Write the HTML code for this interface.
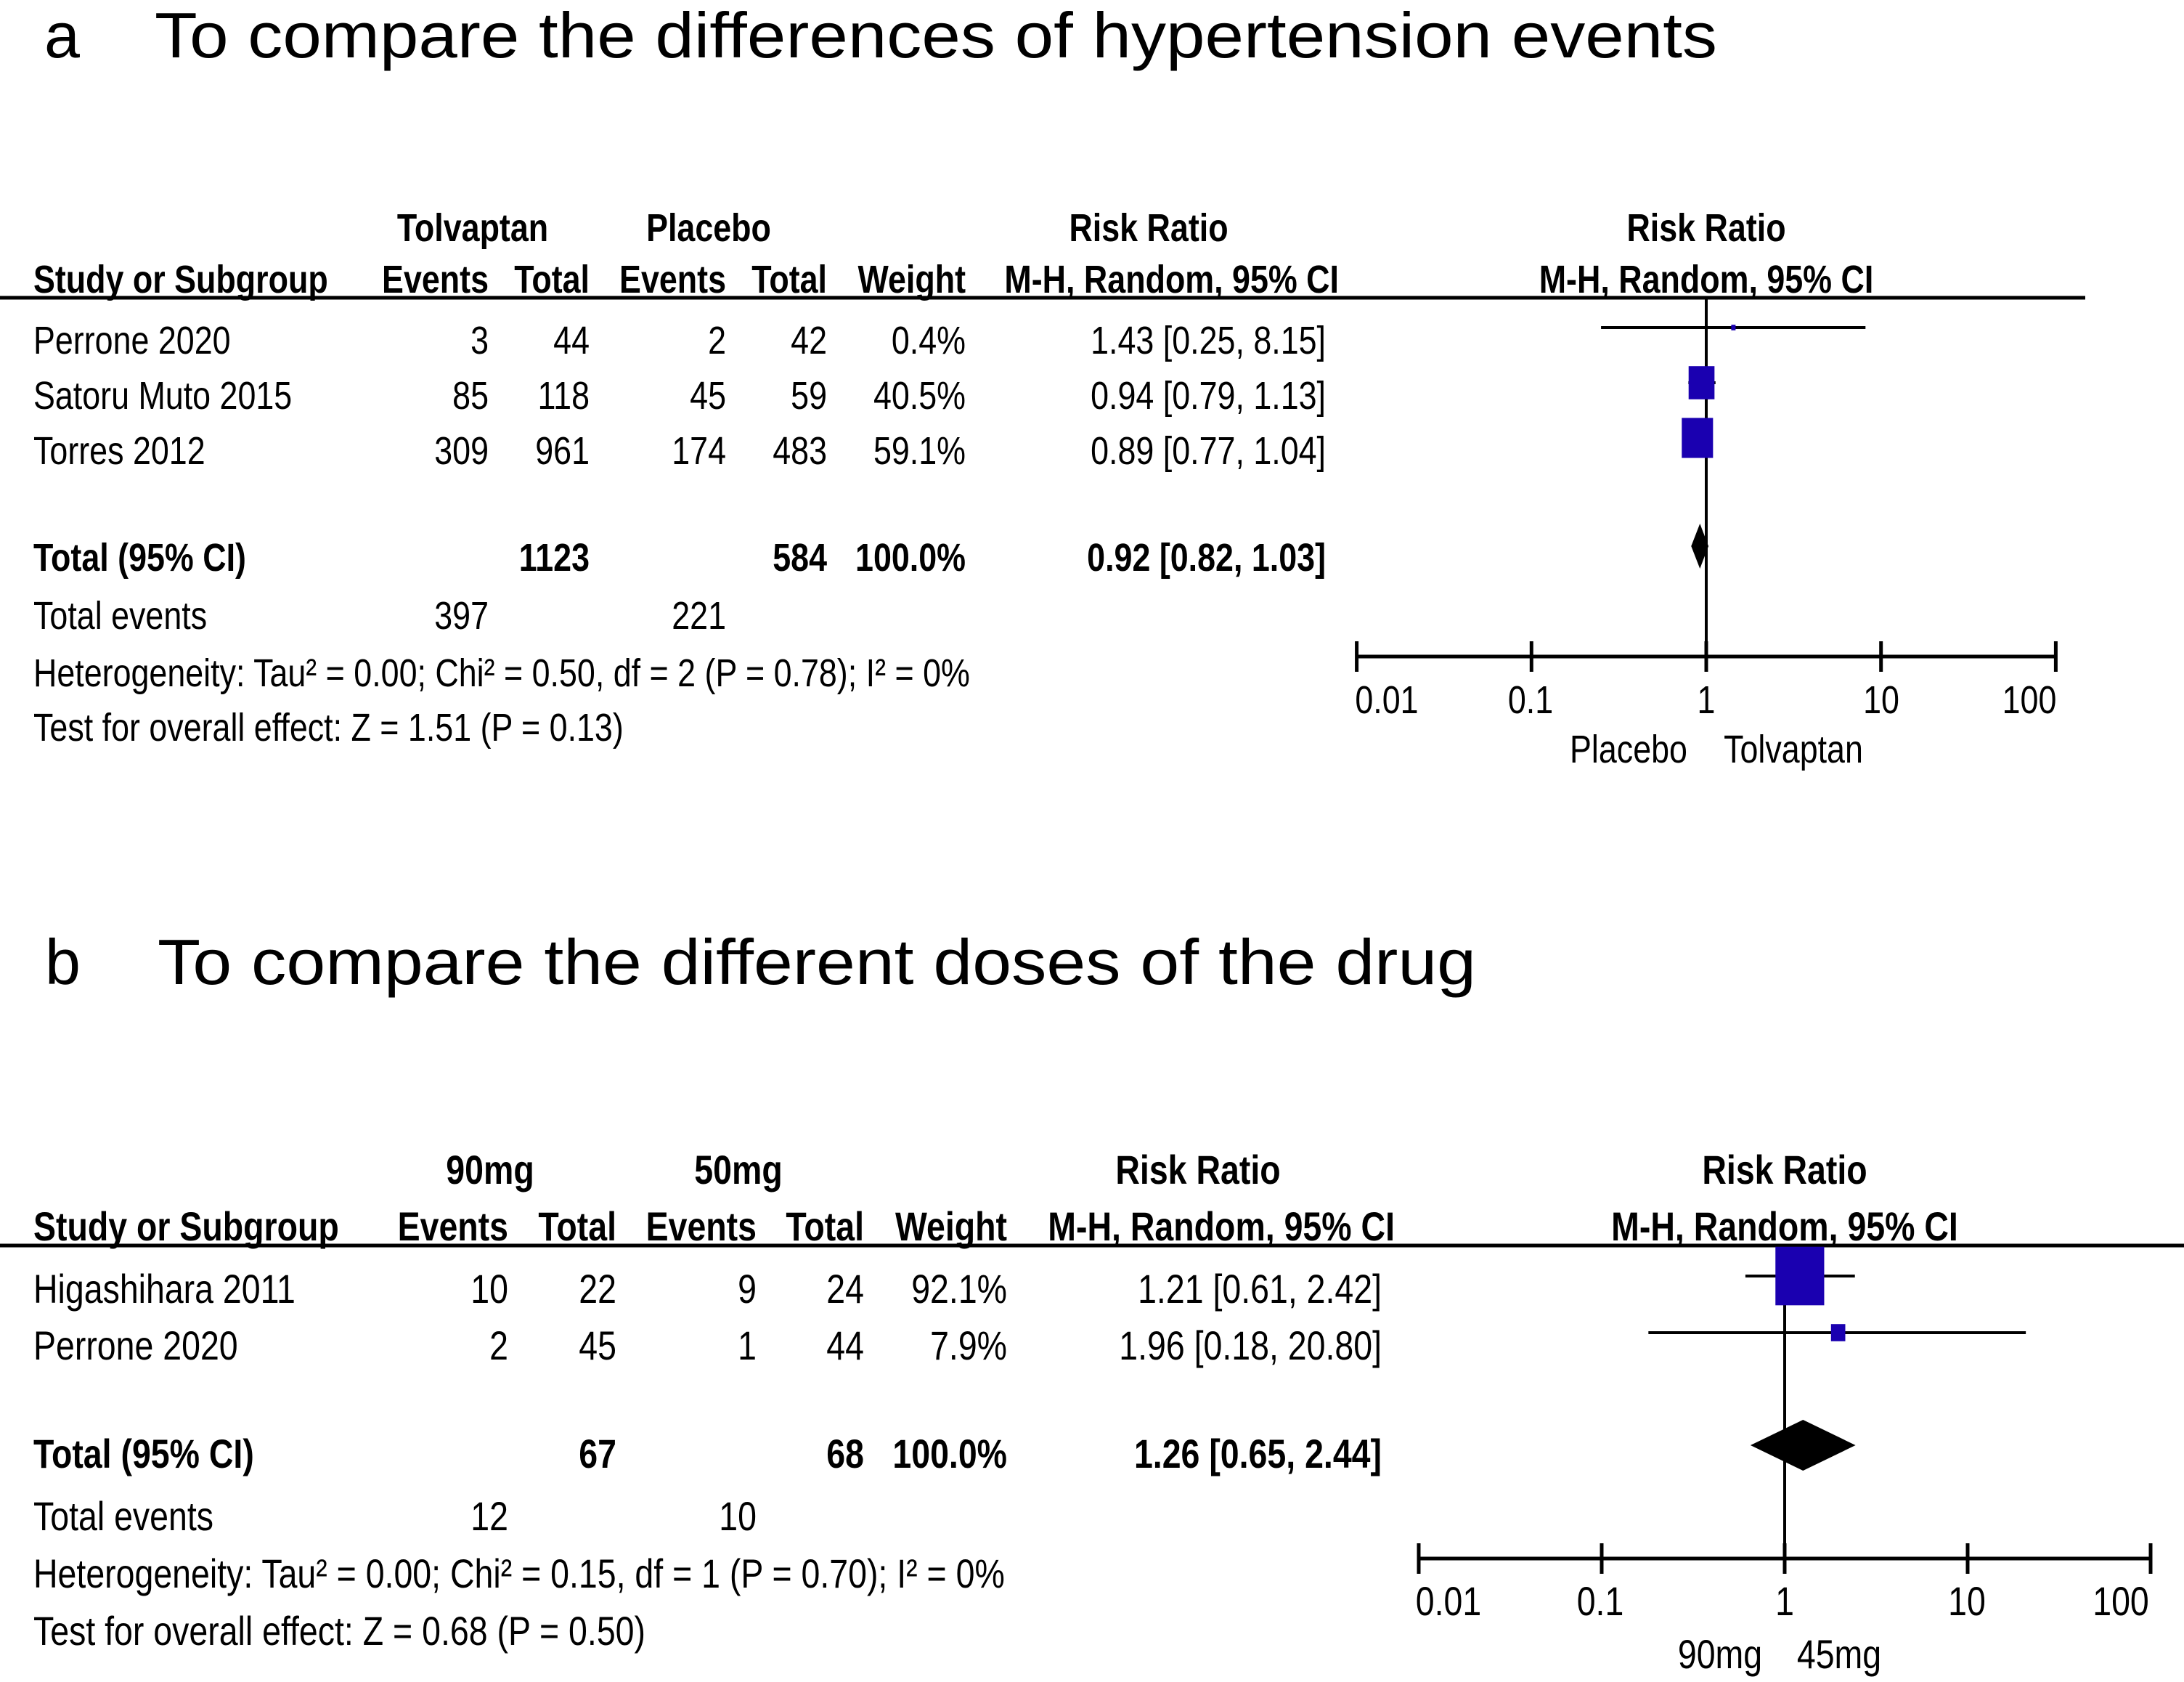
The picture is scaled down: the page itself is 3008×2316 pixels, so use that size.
<!DOCTYPE html>
<html><head><meta charset="utf-8"><style>
html,body{margin:0;padding:0;background:#fff;}
svg{display:block;}
text{font-family:"Liberation Sans",Arial,sans-serif;fill:#000;}
</style></head><body>
<svg id="fig" width="3008" height="2316" viewBox="0 0 3008 2316" xmlns="http://www.w3.org/2000/svg">
<rect width="3008" height="2316" fill="#fff"/>
<text x="61" y="79" font-size="88">a</text>
<text x="213" y="79" font-size="88" textLength="2152" lengthAdjust="spacingAndGlyphs">To compare the differences of hypertension events</text>
<text x="62" y="1355" font-size="88">b</text>
<text x="217" y="1355" font-size="88" textLength="1816" lengthAdjust="spacingAndGlyphs">To compare the different doses of the drug</text>
<g id="ga"></g>
<g id="gb"></g>
</svg>
<script>
// Panel a data
const aStudies = ["Perrone 2020", "Satoru Muto 2015", "Torres 2012"];
const aTolEvents = ["3", "85", "309"];
const aTolTotal = ["44", "118", "961"];
const aPlaEvents = ["2", "45", "174"];
const aPlaTotal = ["42", "59", "483"];
const aWeights = [0.4, 40.5, 59.1];
const aRR = [1.43, 0.94, 0.89];
const aLo = [0.25, 0.79, 0.77];
const aHi = [8.15, 1.13, 1.04];
const aPooled = [0.92, 0.82, 1.03];
const aTotals = ["1123", "584", "100.0%", "0.92 [0.82, 1.03]"];
const aEvents = ["397", "221"];
const aHet = "Heterogeneity: Tau² = 0.00; Chi² = 0.50, df = 2 (P = 0.78); I² = 0%";
const aTest = "Test for overall effect: Z = 1.51 (P = 0.13)";
// Panel b data
const bStudies = ["Higashihara 2011", "Perrone 2020"];
const bTolEvents = ["10", "2"];
const bTolTotal = ["22", "45"];
const bPlaEvents = ["9", "1"];
const bPlaTotal = ["24", "44"];
const bWeights = [92.1, 7.9];
const bRR = [1.21, 1.96];
const bLo = [0.61, 0.18];
const bHi = [2.42, 20.80];
const bPooled = [1.26, 0.65, 2.44];
const bTotals = ["67", "68", "100.0%", "1.26 [0.65, 2.44]"];
const bEvents = ["12", "10"];
const bHet = "Heterogeneity: Tau² = 0.00; Chi² = 0.15, df = 1 (P = 0.70); I² = 0%";
const bTest = "Test for overall effect: Z = 0.68 (P = 0.50)";
const tickVals = [0.01, 0.1, 1, 10, 100];
const tickLabels = ["0.01", "0.1", "1", "10", "100"];

const NS = "http://www.w3.org/2000/svg";
const SX = 0.83;
let FS = 54;
function mk(tag, parent){const e=document.createElementNS(NS,tag);parent.appendChild(e);return e;}
function T(g,x,y,s,anchor,bold,name,size){
  const e=mk("text",g);
  e.setAttribute("transform","translate("+x+","+y+") scale("+SX+",1)");
  e.setAttribute("font-size",size||FS);
  if(anchor)e.setAttribute("text-anchor",anchor);
  if(bold)e.setAttribute("font-weight","bold");
  e.textContent=s;
  
  
  return e;
}
function L(g,x1,y1,x2,y2,w,name){
  const e=mk("line",g);
  e.setAttribute("x1",x1);e.setAttribute("y1",y1);e.setAttribute("x2",x2);e.setAttribute("y2",y2);
  e.setAttribute("stroke","#000");e.setAttribute("stroke-width",w);
  
  
  return e;
}
function fmt(v){return v.toFixed(2);}

function panel(g,cfg){
  FS=cfg.fs;
  const xs=v=>cfg.x1+cfg.dec*Math.log10(v);
  const c=cfg.col;
  T(g,c.g1,cfg.h1,cfg.grp1,"middle",true,"group1-header");
  T(g,c.g2,cfg.h1,cfg.grp2,"middle",true,"group2-header");
  T(g,c.rrc,cfg.h1,"Risk Ratio","middle",true,"risk-ratio-header");
  T(g,cfg.x1,cfg.h1,"Risk Ratio","middle",true,"plot-risk-ratio-header");
  T(g,46,cfg.h2,"Study or Subgroup",null,true,"study-header");
  T(g,c.e1,cfg.h2,"Events","end",true,"events1-header");
  T(g,c.t1,cfg.h2,"Total","end",true,"total1-header");
  T(g,c.e2,cfg.h2,"Events","end",true,"events2-header");
  T(g,c.t2,cfg.h2,"Total","end",true,"total2-header");
  T(g,c.w,cfg.h2,"Weight","end",true,"weight-header");
  T(g,c.ci+18,cfg.h2,"M-H, Random, 95% CI","end",true,"ci-header");
  T(g,cfg.x1,cfg.h2,"M-H, Random, 95% CI","middle",true,"plot-ci-header");
  L(g,0,cfg.rule,cfg.ruleEnd,cfg.rule,5,"header-rule");
  cfg.studies.forEach((s,i)=>{
    const y=cfg.rows[i];
    T(g,46,y,s,null,false,"study-name");
    T(g,c.e1,y,cfg.te[i],"end",false,"events1-value");
    T(g,c.t1,y,cfg.tt[i],"end",false,"total1-value");
    T(g,c.e2,y,cfg.pe[i],"end",false,"events2-value");
    T(g,c.t2,y,cfg.pt[i],"end",false,"total2-value");
    T(g,c.w,y,cfg.wt[i].toFixed(1)+"%","end",false,"weight-value");
    T(g,c.ci,y,fmt(cfg.rr[i])+" ["+fmt(cfg.lo[i])+", "+fmt(cfg.hi[i])+"]","end",false,"ci-value");
  });
  T(g,46,cfg.tot,"Total (95% CI)",null,true,"total-label");
  T(g,c.t1,cfg.tot,cfg.totals[0],"end",true,"total1-sum");
  T(g,c.t2,cfg.tot,cfg.totals[1],"end",true,"total2-sum");
  T(g,c.w,cfg.tot,cfg.totals[2],"end",true,"total-weight");
  T(g,c.ci,cfg.tot,cfg.totals[3],"end",true,"pooled-ci");
  T(g,46,cfg.tev,"Total events",null,false,"total-events-label");
  T(g,c.e1,cfg.tev,cfg.events[0],"end",false,"total-events1");
  T(g,c.e2,cfg.tev,cfg.events[1],"end",false,"total-events2");
  T(g,46,cfg.het,cfg.hetS,null,false,"heterogeneity-text");
  T(g,46,cfg.test,cfg.testS,null,false,"overall-effect-text");
  L(g,cfg.x1,cfg.rule,cfg.x1,cfg.axisY,4,"null-effect-line");
  L(g,xs(tickVals[0]),cfg.axisY,xs(tickVals[tickVals.length-1]),cfg.axisY,5,"x-axis");
  tickVals.forEach((v,i)=>{
    L(g,xs(v),cfg.axisY-21,xs(v),cfg.axisY+21,5,"x-tick");
    T(g,cfg.labX[i],cfg.axisY+78,tickLabels[i],"middle",false,"x-tick-label");
  });
  T(g,cfg.favL[0],cfg.favY,cfg.favL[1],"middle",false,"favours-left-label");
  T(g,cfg.favR[0],cfg.favY,cfg.favR[1],"middle",false,"favours-right-label");
  cfg.studies.forEach((s,i)=>{
    const yc=cfg.rows[i]-cfg.mOff;
    L(g,xs(cfg.lo[i]),yc,xs(cfg.hi[i]),yc,4,"ci-line");
    const w=Math.max(cfg.minW,cfg.k*Math.sqrt(cfg.wt[i]));
    const h=w*cfg.hr;
    const r=mk("rect",g);
    r.setAttribute("x",xs(cfg.rr[i])-w/2);r.setAttribute("y",yc-h/2);
    r.setAttribute("width",w);r.setAttribute("height",h);
    r.setAttribute("fill","#1a00b0");
    
    
  });
  const dy=cfg.tot-cfg.dOff, dh=cfg.dH;
  const d=mk("polygon",g);
  d.setAttribute("points",xs(cfg.pooled[1])+","+dy+" "+xs(cfg.pooled[0])+","+(dy-dh)+" "+xs(cfg.pooled[2])+","+dy+" "+xs(cfg.pooled[0])+","+(dy+dh));
  d.setAttribute("fill","#000");
  
  
}

panel(document.getElementById("ga"),{
  fs:54,
  grp1:"Tolvaptan",grp2:"Placebo",
  col:{g1:651,g2:976,rrc:1582,e1:673,t1:812,e2:1000,t2:1139,w:1330,ci:1826},
  h1:332,h2:403,rule:410,ruleEnd:2872,
  studies:aStudies,te:aTolEvents,tt:aTolTotal,pe:aPlaEvents,pt:aPlaTotal,wt:aWeights,rr:aRR,lo:aLo,hi:aHi,
  rows:[487,563,639],tot:786,tev:866,het:945,test:1020,
  totals:aTotals,events:aEvents,hetS:aHet,testS:aTest,pooled:aPooled,
  x1:2350,dec:240.7,axisY:904,labX:[1910,2108,2350,2591,2795],
  favY:1050,favL:[2243,"Placebo"],favR:[2470,"Tolvaptan"],
  mOff:36,k:5.6,minW:6,hr:1.28,dOff:34,dH:31
});
panel(document.getElementById("gb"),{
  fs:56,
  grp1:"90mg",grp2:"50mg",
  col:{g1:675,g2:1017,rrc:1650,e1:700,t1:849,e2:1042,t2:1190,w:1387,ci:1903},
  h1:1630,h2:1708,rule:1715,ruleEnd:3008,
  studies:bStudies,te:bTolEvents,tt:bTolTotal,pe:bPlaEvents,pt:bPlaTotal,wt:bWeights,rr:bRR,lo:bLo,hi:bHi,
  rows:[1794,1872],tot:2021,tev:2107,het:2186,test:2265,
  totals:bTotals,events:bEvents,hetS:bHet,testS:bTest,pooled:bPooled,
  x1:2458,dec:252,axisY:2146,labX:[1995,2204,2458,2709,2921],
  favY:2297,favL:[2369,"90mg"],favR:[2533,"45mg"],
  mOff:37,k:7,minW:12,hr:1.2,dOff:31,dH:35
});
</script>
</body></html>
